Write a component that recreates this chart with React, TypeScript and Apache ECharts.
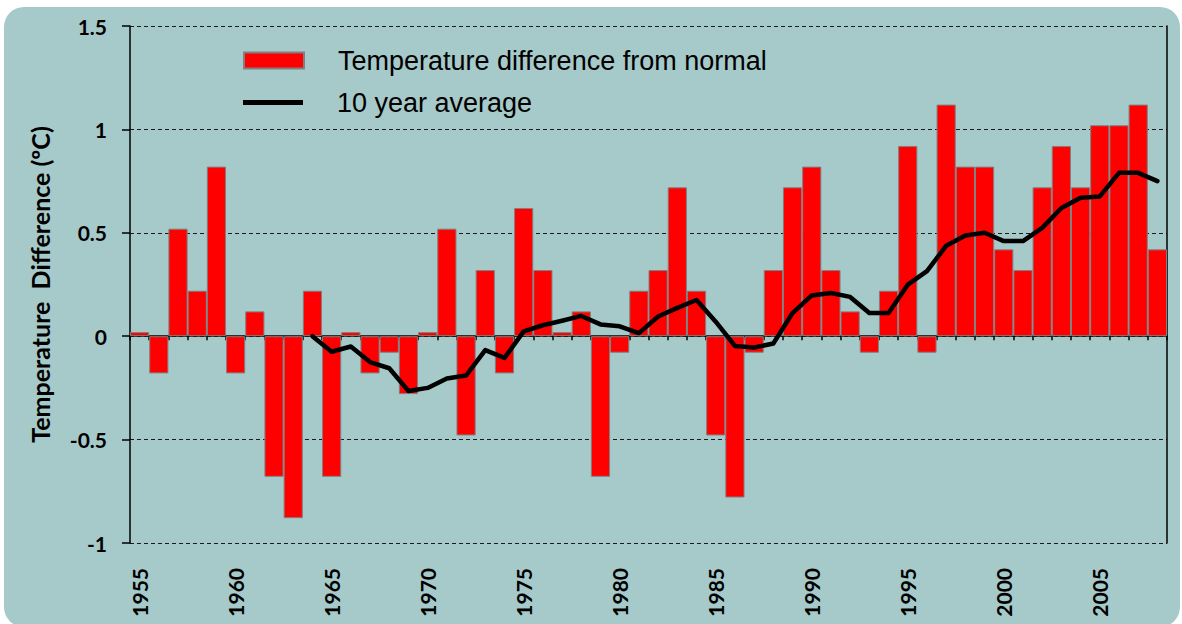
import React, { useEffect, useRef } from "react";
import * as echarts from "echarts";

const years = [
  "1955", "1956", "1957", "1958", "1959", "1960", "1961", "1962", "1963", "1964",
  "1965", "1966", "1967", "1968", "1969", "1970", "1971", "1972", "1973", "1974",
  "1975", "1976", "1977", "1978", "1979", "1980", "1981", "1982", "1983", "1984",
  "1985", "1986", "1987", "1988", "1989", "1990", "1991", "1992", "1993", "1994",
  "1995", "1996", "1997", "1998", "1999", "2000", "2001", "2002", "2003", "2004",
  "2005", "2006", "2007", "2008",
];

const tempDiff = [
  0.02, -0.18, 0.52, 0.22, 0.82, -0.18, 0.12, -0.68, -0.88, 0.22,
  -0.68, 0.02, -0.18, -0.08, -0.28, 0.02, 0.52, -0.48, 0.32, -0.18,
  0.62, 0.32, 0.02, 0.12, -0.68, -0.08, 0.22, 0.32, 0.72, 0.22,
  -0.48, -0.78, -0.08, 0.32, 0.72, 0.82, 0.32, 0.12, -0.08, 0.22,
  0.92, -0.08, 1.12, 0.82, 0.82, 0.42, 0.32, 0.72, 0.92, 0.72,
  1.02, 1.02, 1.12, 0.42,
];

const tenYearAvg = [
  null, null, null, null, null, null, null, null, null, 0.0,
  -0.075, -0.05, -0.125, -0.155, -0.265, -0.25, -0.205, -0.19, -0.067, -0.105,
  0.023, 0.053, 0.075, 0.098, 0.057, 0.048, 0.015, 0.095, 0.137, 0.175,
  0.07, -0.047, -0.055, -0.035, 0.112, 0.197, 0.209, 0.19, 0.112, 0.112,
  0.249, 0.315, 0.437, 0.487, 0.5, 0.46, 0.46, 0.524, 0.62, 0.67,
  0.676, 0.79, 0.79, 0.75,
];

const yMin = -1;
const yMax = 1.5;
const yInterval = 0.5;

const barName = "Temperature difference from normal";
const lineName = "10 year average";
const yTitle = "Temperature  Difference (ºC)";

export default function App() {
  const ref = useRef<HTMLDivElement>(null);

  useEffect(() => {
    if (!ref.current) return;
    const chart = echarts.init(ref.current, null, { renderer: "svg" });
    const labelFont = {
      fontFamily: "Lato",
      fontWeight: "bold" as const,
      fontSize: 21,
      color: "#000",
    };
    const legendText = {
      fontFamily: "Liberation Sans",
      fontSize: 27,
      color: "#000",
      lineHeight: 27,
      padding: [0, 0, 0, 29],
    };
    chart.setOption({
      animation: false,
      backgroundColor: "#ffffff",
      graphic: [
        {
          type: "rect",
          z: -10,
          silent: true,
          shape: { x: 4, y: 7, width: 1176, height: 620, r: 20 },
          style: { fill: "#a6c9c9" },
        },
      ],
      grid: { left: 130, right: 15, top: 26, bottom: 81, containLabel: false },
      legend: [
        {
          data: [
            {
              name: barName,
              itemStyle: { color: "#ff0000", borderColor: "#808080", borderWidth: 2 },
            },
          ],
          left: 243,
          top: 47,
          padding: 0,
          itemWidth: 60,
          itemHeight: 16,
          icon: "rect",
          textStyle: legendText,
        },
        {
          data: [{ name: lineName, icon: "rect" }],
          left: 243,
          top: 89,
          padding: 0,
          itemWidth: 60,
          itemHeight: 5,
          textStyle: legendText,
        },
      ],
      xAxis: [
        {
          type: "category",
          data: years,
          position: "bottom",
          boundaryGap: true,
          axisLine: { show: false, onZero: false },
          axisTick: { show: false },
          splitLine: { show: false },
          axisLabel: { ...labelFont, interval: 4, rotate: 90, margin: 25 },
        },
        {
          type: "category",
          data: years,
          position: "bottom",
          boundaryGap: true,
          axisLine: {
            show: true,
            onZero: true,
            onZeroAxisIndex: 0,
            lineStyle: { color: "#000", width: 1.5 },
          },
          axisTick: { show: true, interval: 0, length: 4, lineStyle: { color: "#000", width: 1.5 } },
          axisLabel: { show: false },
          splitLine: { show: false },
        },
      ],
      yAxis: [
        {
          type: "value",
          min: yMin,
          max: yMax,
          interval: yInterval,
          name: yTitle,
          nameLocation: "middle",
          nameGap: 78,
          nameRotate: 90,
          nameTextStyle: { fontFamily: "Lato", fontWeight: "bold", fontSize: 25, color: "#000" },
          axisLine: { show: true, lineStyle: { color: "#000", width: 1.5 } },
          axisTick: { show: true, length: 8, lineStyle: { color: "#000", width: 1.5 } },
          axisLabel: { ...labelFont, margin: 23, formatter: (v: number) => String(v) },
          splitLine: { show: true, lineStyle: { type: [4, 3], color: "#1a1a1a", width: 1 } },
        },
        {
          type: "value",
          position: "right",
          min: yMin,
          max: yMax,
          interval: yInterval,
          axisLine: { show: true, onZero: false, lineStyle: { color: "#000", width: 1.5 } },
          axisTick: { show: false },
          axisLabel: { show: false },
          splitLine: { show: false },
        },
      ],
      series: [
        {
          type: "bar",
          name: barName,
          data: tempDiff,
          xAxisIndex: 0,
          yAxisIndex: 0,
          barCategoryGap: "0%",
          itemStyle: { color: "#ff0000", borderColor: "#808080", borderWidth: 1 },
        },
        {
          type: "line",
          name: lineName,
          data: tenYearAvg,
          xAxisIndex: 0,
          yAxisIndex: 0,
          symbol: "none",
          showSymbol: false,
          connectNulls: false,
          z: 3,
          itemStyle: { color: "#000" },
          lineStyle: { color: "#000", width: 4.5, cap: "round", join: "round" },
        },
      ],
    });
    return () => chart.dispose();
  }, []);

  return (
    <div
      ref={ref}
      style={{ position: "fixed", left: 0, top: 0, width: 1182, height: 624, background: "#fff" }}
    />
  );
}
